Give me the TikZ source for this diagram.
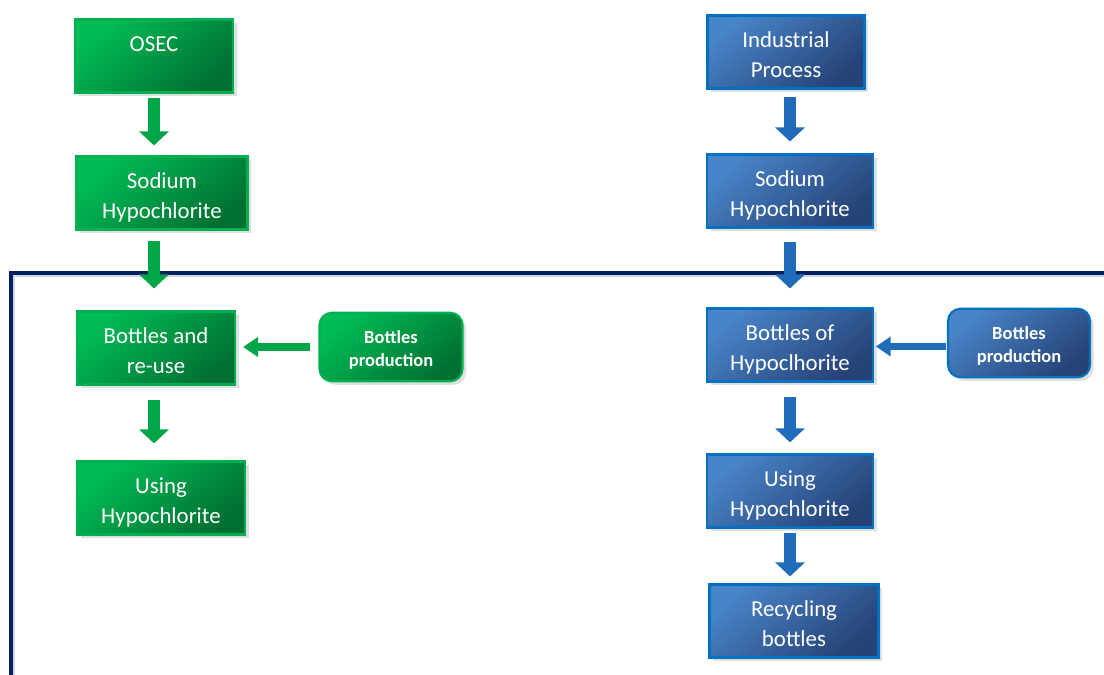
\documentclass[tikz,border=0pt]{standalone}
\usepackage{fontspec}
\setmainfont{Carlito}
\usetikzlibrary{positioning,arrows.meta,shadows}
\definecolor{greenlight}{RGB}{0,188,86}
\definecolor{greendark}{RGB}{0,112,50}
\definecolor{greenedge}{RGB}{0,176,80}
\definecolor{greenarrow}{RGB}{0,165,72}
\definecolor{bluelight}{RGB}{72,132,200}
\definecolor{bluedark}{RGB}{38,66,118}
\definecolor{blueedge}{RGB}{0,112,192}
\definecolor{bluearrow}{RGB}{32,108,186}
\definecolor{navyline}{RGB}{0,32,96}
\tikzset{box/.style={rectangle,inner sep=0pt,align=center,text=white,line width=1.2pt,
    drop shadow={shadow xshift=2pt,shadow yshift=-2pt,opacity=0.25}}}
\tikzset{greenbox/.style={box,draw=greenedge,top color=greenlight,bottom color=greendark,shading angle=40}}
\tikzset{bluebox/.style={box,draw=blueedge,top color=bluelight,bottom color=bluedark,shading angle=40}}
\tikzset{mainbox/.style={minimum height=1.46cm,font=\fontsize{13}{17}\selectfont,
    text height=33pt,text depth=4pt}}
\tikzset{sidebox/.style={rounded corners=7pt,minimum height=1.37cm,minimum width=2.86cm,
    font=\fontsize{10.5}{13.5}\selectfont\bfseries,text height=25.7pt,text depth=3pt}}
\tikzset{downarrow/.style={line width=6.8pt,-{Triangle[length=8pt,width=16.5pt]}}}
\tikzset{sidearrow/.style={line width=4.4pt,-{Triangle[length=8.5pt,width=10.8pt]},shorten <=4pt,shorten >=4pt}}
\tikzset{divider/.style={navyline,line width=1.8pt}}
\tikzset{dividershade/.style={navyline!18,line width=1.2pt}}

\begin{document}
\begin{tikzpicture}[x=0.02cm,y=-0.02cm]
	\useasboundingbox (0,0) rectangle (1104,675);

	%% dividing line
	\draw[dividershade] (1104,275.5) -| (13.5,675);
	\draw[divider] (1104,273) -| (11,675);

	%% left column: OSEC
	\node[greenbox,mainbox,minimum width=3.16cm] (osec) at (154,56) {OSEC\\\mbox{}};
	\node[greenbox,mainbox,minimum width=3.42cm] (sodiumL) at (162,193) {Sodium\\Hypochlorite};
	\node[greenbox,mainbox,minimum width=3.16cm] (bottlesL) at (156,348) {Bottles and\\re-use};
	\node[greenbox,mainbox,minimum width=3.36cm] (usingL) at (161,498) {Using\\Hypochlorite};
	\node[greenbox,sidebox] (prodL) at (391,347) {Bottles\\production};

	\draw[downarrow,greenarrow,shorten <=2.8pt,shorten >=5.7pt] (osec.south) -- (osec.south |- sodiumL.north);
	\draw[downarrow,greenarrow,shorten <=5.7pt,shorten >=12.5pt] (sodiumL.south -| osec) -- (osec |- bottlesL.north);
	\draw[downarrow,greenarrow,shorten <=8pt,shorten >=9.7pt] (bottlesL.south -| osec) -- (osec |- usingL.north);
	\draw[sidearrow,greenarrow,shorten <=5pt] (prodL.west) -- (prodL.west -| bottlesL.east);

	%% right column: industrial process
	\node[bluebox,mainbox,minimum width=3.14cm] (industrial) at (786,52) {Industrial\\Process};
	\node[bluebox,mainbox,minimum width=3.32cm] (sodiumR) at (790,191) {Sodium\\Hypochlorite};
	\node[bluebox,mainbox,minimum width=3.32cm] (bottlesR) at (790,345) {Bottles of\\Hypoclhorite};
	\node[bluebox,mainbox,minimum width=3.32cm] (usingR) at (790,491) {Using\\Hypochlorite};
	\node[bluebox,mainbox,minimum width=3.38cm] (recycling) at (794,621) {Recycling\\bottles};
	\node[bluebox,sidebox,minimum width=2.84cm] (prodR) at (1019,343) {Bottles\\production};

	\draw[downarrow,bluearrow,shorten <=4.5pt,shorten >=6.8pt] (sodiumR.north |- industrial.south) -- (sodiumR.north);
	\draw[downarrow,bluearrow,shorten <=7.4pt,shorten >=10.8pt] (sodiumR.south) -- (bottlesR.north);
	\draw[downarrow,bluearrow,shorten <=8pt,shorten >=6.3pt] (bottlesR.south) -- (bottlesR.south |- usingR.north);
	\draw[downarrow,bluearrow,shorten <=2.3pt,shorten >=4pt] (usingR.south) -- (usingR.south |- recycling.north);
	\draw[sidearrow,bluearrow,shorten <=0.5pt,shorten >=1pt] ([yshift=-2pt]prodR.west) -- ([yshift=-2pt]prodR.west -| bottlesR.east);
\end{tikzpicture}
\end{document}
